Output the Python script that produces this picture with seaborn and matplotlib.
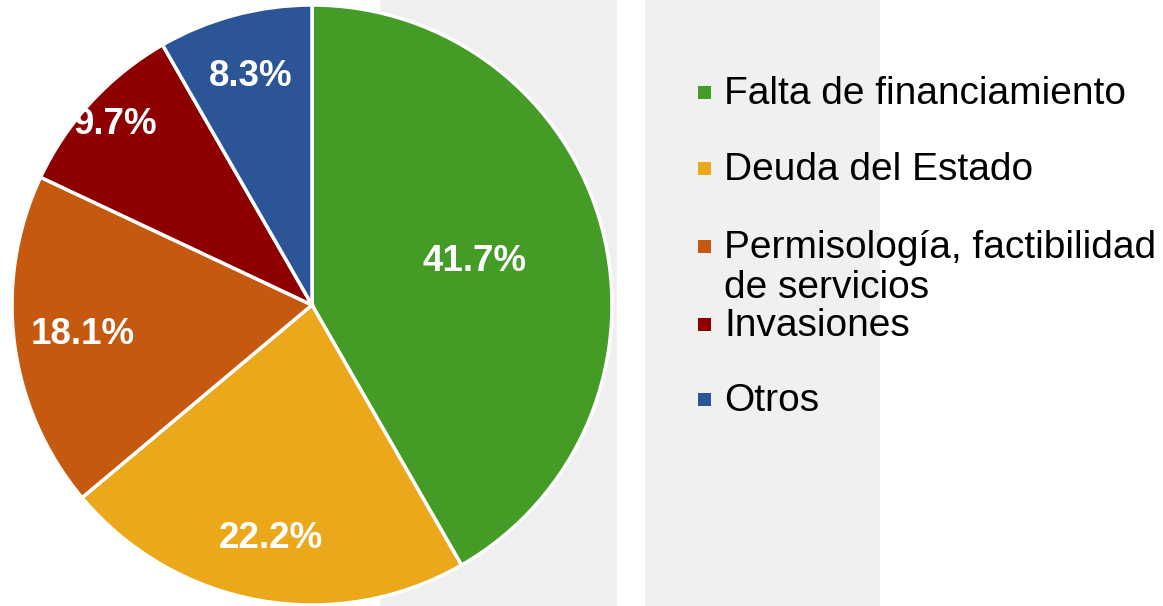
"""Pie chart: causas de paralización de obras."""

import numpy as np
import matplotlib.pyplot as plt
import seaborn as sns

CATEGORIES = [
    "Falta de financiamiento",
    "Deuda del Estado",
    "Permisología, factibilidad\nde servicios",
    "Invasiones",
    "Otros",
]
SHARES = [41.7, 22.2, 18.1, 9.7, 8.3]
COLORS = ["#449b26", "#eba81b", "#c5590f", "#8e0000", "#2c5597"]

# radial position of each percentage label (fraction of radius)
LABEL_RADII = [0.56, 0.79, 0.77, 0.89, 0.79]
# baseline (px from top) of the first line of each legend entry
LEGEND_BASELINES = [104, 180, 258, 336, 411]
LINE_STEP = 40

W, H = 1163, 606


def fx(px):
    return px / W


def fy(py):
    return 1 - py / H


def main() -> None:
    sns.set_theme(style="white")
    plt.rcParams["font.family"] = ["Liberation Sans", "DejaVu Sans"]

    fig = plt.figure(figsize=(W / 100, H / 100), dpi=100)
    fig.patch.set_facecolor("white")

    # faint watermark bands behind everything
    bg = fig.add_axes([0, 0, 1, 1], zorder=-1)
    bg.set_xlim(0, W)
    bg.set_ylim(H, 0)
    bg.axvspan(380, 617, color="#efefef", lw=0)
    bg.axvspan(645, 880, color="#f0f0f0", lw=0)
    bg.axis("off")

    ax = fig.add_axes([fx(12), fy(605), fx(600), 600 / H])
    ax.set_facecolor("none")
    wedges, _ = ax.pie(
        SHARES,
        colors=COLORS,
        startangle=90,
        counterclock=False,
        radius=1,
        wedgeprops={"edgecolor": "white", "linewidth": 2.5},
    )
    ax.set_xlim(-1, 1)
    ax.set_ylim(-1, 1)
    ax.set_aspect("equal")
    ax.axis("off")

    for w, share, r in zip(wedges, SHARES, LABEL_RADII):
        mid = np.deg2rad((w.theta1 + w.theta2) / 2)
        ax.text(r * np.cos(mid), r * np.sin(mid), f"{share:.1f}%",
                ha="center", va="center", color="white",
                fontsize=26.5, fontweight="bold")

    for label, color, base in zip(CATEGORIES, COLORS, LEGEND_BASELINES):
        bg.add_patch(plt.Rectangle((698, base - 18), 13, 13, color=color, lw=0))
        lines = label.split("\n")
        for i, line in enumerate(lines):
            bg.text(724, base + i * LINE_STEP, line, ha="left", va="baseline",
                    fontsize=28, color="black")

    fig.savefig("out.png", dpi=100)


if __name__ == "__main__":
    main()
